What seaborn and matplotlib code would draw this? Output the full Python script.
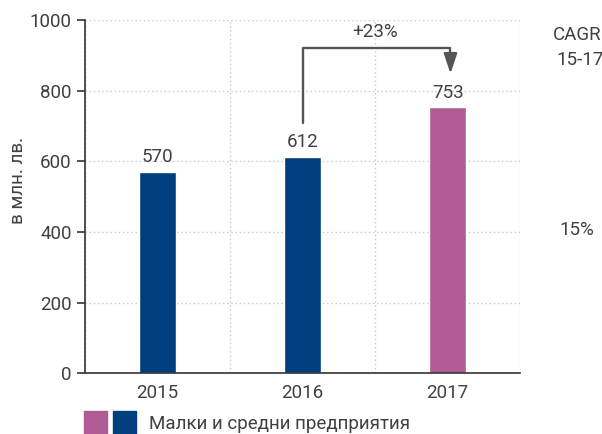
import matplotlib
matplotlib.use("Agg")
import matplotlib.pyplot as plt
from matplotlib.patches import Patch
from matplotlib.legend_handler import HandlerTuple
import seaborn as sns
import pandas as pd

years = ["2015", "2016", "2017"]
values = [570, 612, 753]
bar_colors = ["#003e7e", "#003e7e", "#b15b96"]
growth_label = "+23%"
cagr_value = "15%"
legend_label = "Малки и средни предприятия"
ylabel = "в млн. лв."

text_color = "#404040"
fs = 13.5

sns.set_theme(style="white")
plt.rcParams["font.family"] = ["Roboto", "DejaVu Sans"]
plt.rcParams["font.size"] = fs

df = pd.DataFrame({"year": years, "value": values})

fig = plt.figure(figsize=(6.02, 4.34), dpi=100)
ax = fig.add_axes([0.141, 0.14, 0.723, 0.814])

sns.barplot(data=df, x="year", y="value", hue="year", palette=bar_colors,
            width=0.26, legend=False, ax=ax, saturation=1)

for c in ax.containers:
    ax.bar_label(c, padding=4, fontsize=fs, color=text_color)

ax.set_ylim(0, 1000)
ax.set_xlim(-0.5, len(years) - 0.5)
ax.set_yticks(range(0, 1001, 200))
ax.set_xticks(range(len(years)))
ax.set_xticks([i - 0.5 for i in range(len(years) + 1)], minor=True)
ax.tick_params(axis="x", which="major", length=0, pad=8, labelsize=fs, labelcolor=text_color)
ax.tick_params(axis="x", which="minor", length=6, width=1.2, color="#333333", direction="out")
ax.tick_params(axis="y", length=6, width=1.2, color="#333333", labelsize=fs, labelcolor=text_color, left=True)
ax.set_xlabel("")
ax.set_ylabel("")

ax.yaxis.grid(True, linestyle=(0, (1, 2)), color="#c8c8c8", linewidth=1)
ax.xaxis.grid(True, which="minor", linestyle=(0, (1, 2)), color="#c8c8c8", linewidth=1)
ax.set_axisbelow(True)
for s in ["top", "right"]:
    ax.spines[s].set_visible(False)
for s in ["left", "bottom"]:
    ax.spines[s].set_color("#333333")
    ax.spines[s].set_linewidth(1.2)

# growth bracket between 2016 and 2017
bracket_y = 920
x0, x1 = 1, 2
ax.plot([x0, x0, x1 + 0.02, x1 + 0.02],
        [values[1] + 95, bracket_y, bracket_y, bracket_y - 10],
        color="#555555", lw=1.7, clip_on=False)
ax.annotate("", xy=(x1 + 0.02, 840), xytext=(x1 + 0.02, bracket_y - 5),
            arrowprops=dict(arrowstyle="-|>,head_width=0.3,head_length=0.9",
                            color="#555555", lw=1.7))
ax.text((x0 + x1) / 2, 967, growth_label, ha="center", va="center",
        fontsize=fs, color=text_color)

fig.text(0.9186, 0.919, "CAGR", ha="left", va="center", fontsize=fs, color=text_color)
fig.text(0.9236, 0.862, "15-17", ha="left", va="center", fontsize=fs, color=text_color)
fig.text(0.930, 0.47, cagr_value, ha="left", va="center", fontsize=fs, color=text_color)
fig.text(0.03, 0.585, ylabel, rotation=90, ha="center", va="center",
         fontsize=fs, color=text_color)

handles = (Patch(color=bar_colors[2]), Patch(color=bar_colors[0]))
fig.legend([handles], [legend_label], handler_map={tuple: HandlerTuple(ndivide=None, pad=0.28)},
           loc="center left", bbox_to_anchor=(0.111, 0.025), frameon=False,
           handlelength=2.8, handleheight=1.55, handletextpad=0.7,
           fontsize=fs, labelcolor=text_color)

fig.savefig("out.png", dpi=100)
